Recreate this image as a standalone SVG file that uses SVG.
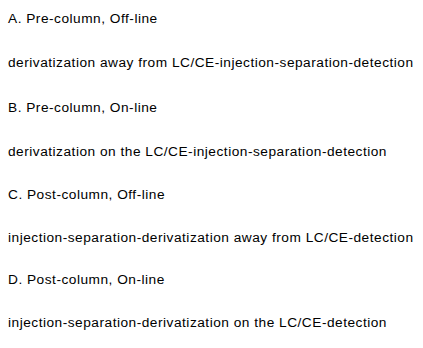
<svg xmlns="http://www.w3.org/2000/svg" width="423" height="348" viewBox="0 0 423 348">
<style>
text{font-family:"Liberation Sans",Arial,sans-serif;font-size:13.7px;letter-spacing:0.5px;fill:#000;}
</style>
<rect width="423" height="348" fill="#fff"/>
<g id="A">
<text x="8" y="23">A. Pre-column, Off-line</text>
<text x="8" y="67">derivatization away from LC/CE-injection-separation-detection</text>
</g>
<g id="B">
<text x="8" y="112">B. Pre-column, On-line</text>
<text x="8" y="156">derivatization on the LC/CE-injection-separation-detection</text>
</g>
<g id="C">
<text x="8" y="199">C. Post-column, Off-line</text>
<text x="8" y="242">injection-separation-derivatization away from LC/CE-detection</text>
</g>
<g id="D">
<text x="8" y="284">D. Post-column, On-line</text>
<text x="8" y="327">injection-separation-derivatization on the LC/CE-detection</text>
</g>
</svg>
